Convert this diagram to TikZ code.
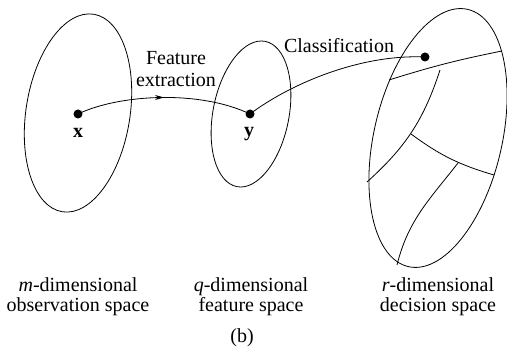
\documentclass[tikz,border=0pt]{standalone}
\usepackage{fontspec}
\setmainfont{Liberation Serif}
\usetikzlibrary{arrows.meta,decorations.markings}
\begin{document}
\begin{tikzpicture}[x=1pt,y=1pt,
  spaceline/.style={line width=0.8pt},
  dot/.style={circle,fill=black,inner sep=0pt,minimum size=9pt},
  lab/.style={font=\rmfamily\fontsize{20}{20}\selectfont,align=center,inner sep=0pt},
  pt/.style={font=\rmfamily\bfseries\fontsize{20}{20}\selectfont},
  midarrow/.style={decoration={markings,mark=at position 0.5 with {\arrow{Stealth[length=9pt,width=5pt]}}},postaction={decorate}}]
\useasboundingbox (0,0) rectangle (507,352);
% spaces
\draw[spaceline,rotate around={-9:(78,239)}] (78,239) ellipse [x radius=52, y radius=100];
\draw[spaceline,rotate around={-11:(251,238)}] (251,238) ellipse [x radius=38, y radius=74];
\draw[spaceline,rotate around={-13:(438,214)}] (438,214) ellipse [x radius=64, y radius=132];
% partitions of decision space
\coordinate (a1) at (389,272);
\coordinate (a2) at (502,301);
\coordinate (b1) at (440,282);
\coordinate (b2) at (367,170);
\coordinate (c1) at (411,218);
\coordinate (c2) at (494,177);
\coordinate (d1) at (458,189);
\coordinate (d2) at (397,87);
\draw[spaceline] (a1) to[bend left=3] (a2);
\draw[spaceline] (b1) to[out=-108,in=42] (b2);
\draw[spaceline] (c1) to[bend right=10] (c2);
\draw[spaceline] (d1) to[out=-128,in=76] (d2);
% points
\node[dot] (nx) at (78,238) {};
\node[dot] (ny) at (250,238) {};
\node[dot] (nd) at (425,295) {};
\node[pt] (lx) at (78,219) {x};
\node[pt] (ly) at (249,218) {y};
% mappings
\draw[spaceline,midarrow] (nx.center) .. controls (120,258) and (200,262) .. (ny.center);
\draw[spaceline] (ny.center) .. controls (290,268) and (360,298) .. (nd.center);
\node[lab,font=\rmfamily\fontsize{20}{22}\selectfont] (fe) at (176,283) {Feature\\extraction};
\node[lab] (cl) at (339,306) {Classification};
% captions
\node[lab] (c1t) at (78,55) {\textit{m}-dimensional\\observation space};
\node[lab] (c2t) at (251,55) {\textit{q}-dimensional\\feature space};
\node[lab] (c3t) at (438,55) {\textit{r}-dimensional\\decision space};
\node[lab] (cb) at (242,14) {(b)};
\end{tikzpicture}
\end{document}
